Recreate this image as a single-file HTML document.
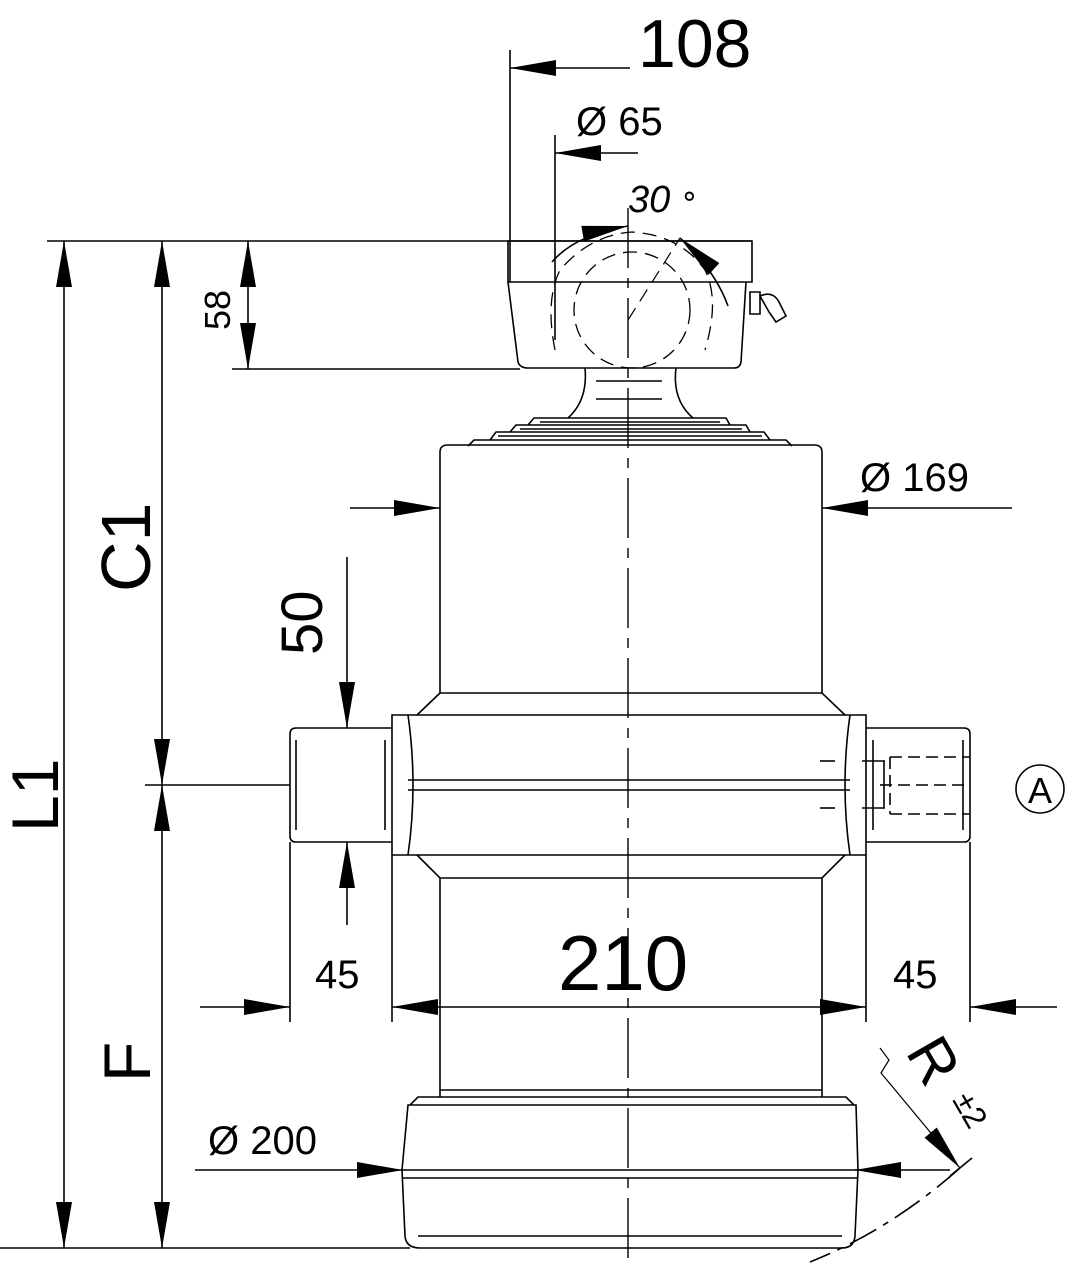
<!DOCTYPE html>
<html><head><meta charset="utf-8"><style>
html,body{margin:0;padding:0;background:#fff}
svg{display:block}
text{font-family:"Liberation Sans",sans-serif;fill:#000}
</style></head><body>
<svg width="1083" height="1280" viewBox="0 0 1083 1280" xmlns="http://www.w3.org/2000/svg">
<defs>
<marker id="a" viewBox="0 0 46 16" refX="46" refY="8" markerWidth="46" markerHeight="16" markerUnits="userSpaceOnUse" orient="auto-start-reverse"><path d="M0,0 L46,8 L0,16 Z" fill="#000"/></marker>
</defs>
<g stroke="#000" fill="none" stroke-width="1.6">
<line x1="47" y1="241" x2="752" y2="241"/>
<line x1="232" y1="369" x2="520" y2="369"/>
<line x1="145" y1="785" x2="290" y2="785"/>
<line x1="0" y1="1248" x2="410" y2="1248"/>
<line x1="510" y1="50" x2="510" y2="282"/>
<line x1="555" y1="135" x2="555" y2="340"/>
<line x1="290" y1="842" x2="290" y2="1022"/>
<line x1="392" y1="855" x2="392" y2="1022"/>
<line x1="866" y1="855" x2="866" y2="1022"/>
<line x1="970" y1="842" x2="970" y2="1022"/>
<line x1="64" y1="241" x2="64" y2="1248" marker-start="url(#a)" marker-end="url(#a)"/>
<line x1="162" y1="241" x2="162" y2="785" marker-start="url(#a)" marker-end="url(#a)"/>
<line x1="162" y1="785" x2="162" y2="1248" marker-start="url(#a)" marker-end="url(#a)"/>
<line x1="248" y1="241" x2="248" y2="369" marker-start="url(#a)" marker-end="url(#a)"/>
<line x1="630" y1="68" x2="510" y2="68" marker-end="url(#a)"/>
<line x1="638" y1="153" x2="555" y2="153" marker-end="url(#a)"/>
<line x1="350" y1="508" x2="440" y2="508" marker-end="url(#a)"/>
<line x1="1012" y1="508" x2="822" y2="508" marker-end="url(#a)"/>
<line x1="347" y1="557" x2="347" y2="728" marker-end="url(#a)"/>
<line x1="347" y1="925" x2="347" y2="842" marker-end="url(#a)"/>
<line x1="392" y1="1007" x2="866" y2="1007" marker-start="url(#a)" marker-end="url(#a)"/>
<line x1="200" y1="1007" x2="290" y2="1007" marker-end="url(#a)"/>
<line x1="1057" y1="1007" x2="970" y2="1007" marker-end="url(#a)"/>
<line x1="195" y1="1170" x2="403" y2="1170" marker-end="url(#a)"/>
<line x1="950" y1="1170" x2="855" y2="1170" marker-end="url(#a)"/>
<line x1="628" y1="208" x2="628" y2="1262" stroke-dasharray="60,10,10,10" stroke-width="1.4"/>
<path d="M552,262 Q575,235 628,226" marker-end="url(#a)"/>
<path d="M728,306 Q715,270 680,238" marker-end="url(#a)"/>
<path d="M628,320 L680,238" stroke-dasharray="14,8" stroke-width="1.2"/>
<path d="M508,241 H752 V282 H508 Z"/>
<path d="M508,282 L518,362 Q520,368 528,368 H734 Q740,368 741,362 L746,282"/>
<path d="M555,350 Q545,300 560,270 Q590,235 632,232 Q680,235 705,270 Q720,300 705,350" stroke-dasharray="14,8" stroke-width="1.3"/>
<ellipse cx="632" cy="310" rx="58" ry="58" stroke-dasharray="14,8" stroke-width="1.3"/>
<path d="M750,292 h10 v22 h-10 z M760,296 q14,-6 20,8 l6,12 l-10,6 l-7,-10 z"/>
<path d="M585,368 Q588,400 568,418 M676,368 Q672,400 693,418"/>
<line x1="596" y1="381" x2="662" y2="381"/><line x1="596" y1="399" x2="662" y2="399"/>
<path d="M528,425 L534,418 H726 L730,425 M510,432 L516,425 H746 L750,432 M490,440 L496,432 H764 L770,440 M468,446 L474,440 H786 L792,446"/>
<line x1="540" y1="422" x2="720" y2="422"/><line x1="520" y1="429" x2="742" y2="429"/><line x1="498" y1="436" x2="762" y2="436"/>
<path d="M440,693 V452 Q440,445 448,445 H814 Q822,445 822,452 V693"/>
<path d="M440,693 H822 L845,715 M440,693 L417,715"/>
<path d="M392,715 H866 V855 H392 Z"/>
<path d="M408,715 Q418,785 408,855 M850,715 Q840,785 850,855"/>
<line x1="408" y1="780" x2="850" y2="780"/><line x1="408" y1="790" x2="850" y2="790"/>
<path d="M417,855 L440,878 H822 L845,855"/>
<path d="M392,728 H296 Q290,728 290,734 V836 Q290,842 296,842 H392"/>
<line x1="296" y1="740" x2="296" y2="830"/><line x1="385" y1="740" x2="385" y2="830"/>
<path d="M866,728 H964 Q970,728 970,734 V836 Q970,842 964,842 H866"/>
<line x1="873" y1="740" x2="873" y2="830"/><line x1="963" y1="740" x2="963" y2="830"/>
<path d="M890,757 H970 M890,814 H970 M890,757 V814" stroke-dasharray="12,6"/>
<line x1="880" y1="785" x2="970" y2="785" stroke-dasharray="12,6"/>
<line x1="820" y1="761" x2="835" y2="761"/><line x1="820" y1="808" x2="835" y2="808"/>
<line x1="862" y1="761" x2="885" y2="761"/><line x1="862" y1="808" x2="885" y2="808"/>
<line x1="884" y1="761" x2="884" y2="808"/>
<path d="M440,878 V1097 M822,878 V1097"/>
<line x1="440" y1="1090" x2="822" y2="1090"/>
<path d="M410,1105 L418,1097 H846 L854,1105"/>
<path d="M408,1105 H856 L858,1170 L855,1236 Q854,1248 842,1248 H420 Q406,1248 405,1236 L402,1170 Z"/>
<line x1="402" y1="1170" x2="858" y2="1170"/><line x1="402" y1="1178" x2="858" y2="1178"/>
<line x1="418" y1="1236" x2="842" y2="1236"/>
<path d="M880,1048 L889,1060 L881,1073 L960,1168" stroke-width="1.2" marker-end="url(#a)"/>
<line x1="950" y1="1176" x2="972" y2="1158"/>
<path d="M960,1168 Q890,1230 810,1262" stroke-dasharray="30,8,6,8"/>
<circle cx="1040" cy="789" r="24"/>
</g>
<text x="638" y="67" font-size="68">108</text>
<text x="576" y="135" font-size="40">Ø 65</text>
<text x="628" y="212" font-size="38" font-style="italic">30</text>
<text x="680" y="206" font-size="30">∘</text>
<text x="860" y="491" font-size="40">Ø 169</text>
<text x="558" y="990" font-size="78">210</text>
<text x="315" y="988" font-size="40">45</text>
<text x="893" y="988" font-size="40">45</text>
<text x="208" y="1154" font-size="40">Ø 200</text>
<text x="1040" y="803" font-size="36" text-anchor="middle">A</text>
<text transform="translate(58,832) rotate(-90)" font-size="66">L1</text>
<text transform="translate(150,592) rotate(-90)" font-size="70">C1</text>
<text transform="translate(150,1082) rotate(-90)" font-size="66">F</text>
<text transform="translate(230,330) rotate(-90)" font-size="36">58</text>
<text transform="translate(322,655) rotate(-90)" font-size="58">50</text>
<text transform="translate(905,1052) rotate(60)" font-size="60">R</text>
<text transform="translate(952,1100) rotate(60)" font-size="32">±2</text>
</svg>
</body></html>
